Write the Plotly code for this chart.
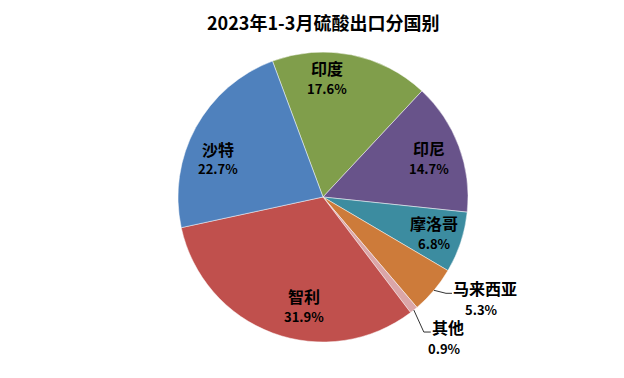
import math
import plotly.graph_objects as go

# ---- data ----
countries = ["印度", "印尼", "摩洛哥", "马来西亚", "其他", "智利", "沙特"]
shares = [17.6, 14.7, 6.8, 5.3, 0.9, 31.9, 22.7]
colors = ["#809E4B", "#68538A", "#3C8CA0", "#CD7B3A", "#DBA6A8", "#C0504D", "#4F81BD"]
title = "2023年1-3月硫酸出口分国别"

# ---- layout constants ----
W, H = 624, 378
OFF = 8  # page body margin
CX, CY, R = 323, 197, 145
ROTATION = -20.4
outside = {"马来西亚": ((12, 3), 6), "其他": ((10, 22), 7)}
# small pixel nudges for inside labels (best-fit style placement)
nudge = {"印度": (-18, -8), "沙特": (-6, 16), "印尼": (0, 1), "摩洛哥": (4, 1), "智利": (20, 3)}
LABEL_F = 0.78
FONT = "Noto Sans CJK SC"
NAME_SIZE = 16
PCT_SIZE = 13

def px(x):
    return (x - OFF) / W

def py(y):
    return 1 - (y - OFF) / H

fig = go.Figure(go.Pie(
    labels=countries, values=shares, sort=False, direction="clockwise",
    rotation=ROTATION, textinfo="none", hoverinfo="label+percent",
    marker=dict(colors=colors, line=dict(color="rgba(255,255,255,0.6)", width=0.8)),
    domain=dict(x=[px(CX - R), px(CX + R)], y=[py(CY + R), py(CY - R)]),
    showlegend=False,
))

annotations = []
shapes = []
total = sum(shares)
cum = 0.0
for name, v in zip(countries, shares):
    mid = ROTATION + (cum + v / 2) / total * 360
    cum += v
    a = math.radians(mid)
    if name in outside:
        (ex, ey), hl = outside[name]
        sx, sy = CX + R * math.sin(a), CY - R * math.cos(a)
        mx, my = sx + ex, sy + ey
        tx = mx + hl
        shapes.append(dict(type="path", xref="paper", yref="paper",
                           path=f"M {px(sx)},{py(sy)} L {px(mx)},{py(my)} L {px(tx)},{py(my)}",
                           line=dict(color="#333333", width=1)))
        annotations.append(dict(x=px(tx - 1), y=py(my - 5), xanchor="left", yanchor="middle",
                                text=f"<b>{name}</b>", showarrow=False,
                                font=dict(family=FONT, size=NAME_SIZE, color="black")))
        nw = NAME_SIZE * len(name)
        annotations.append(dict(x=px(tx - 2 + nw / 2), y=py(my + 16), xanchor="center", yanchor="middle",
                                text=f"<b>{v}%</b>", showarrow=False,
                                font=dict(family=FONT, size=PCT_SIZE, color="black")))
    else:
        lx = CX + LABEL_F * R * math.sin(a) + nudge[name][0]
        ly = CY - LABEL_F * R * math.cos(a) + nudge[name][1]
        annotations.append(dict(x=px(lx), y=py(ly - 10), xanchor="center", yanchor="middle",
                                text=f"<b>{name}</b>", showarrow=False,
                                font=dict(family=FONT, size=NAME_SIZE, color="black")))
        annotations.append(dict(x=px(lx), y=py(ly + 10), xanchor="center", yanchor="middle",
                                text=f"<b>{v}%</b>", showarrow=False,
                                font=dict(family=FONT, size=PCT_SIZE, color="black")))

annotations.append(dict(x=px(323), y=py(22), xanchor="center", yanchor="middle",
                        text=f"<b>{title}</b>", showarrow=False,
                        font=dict(family=FONT, size=18, color="black")))

fig.update_layout(
    width=W, height=H, margin=dict(l=0, r=0, t=0, b=0),
    paper_bgcolor="white", plot_bgcolor="white",
    annotations=annotations, shapes=shapes,
)

fig.write_html("out.html")
